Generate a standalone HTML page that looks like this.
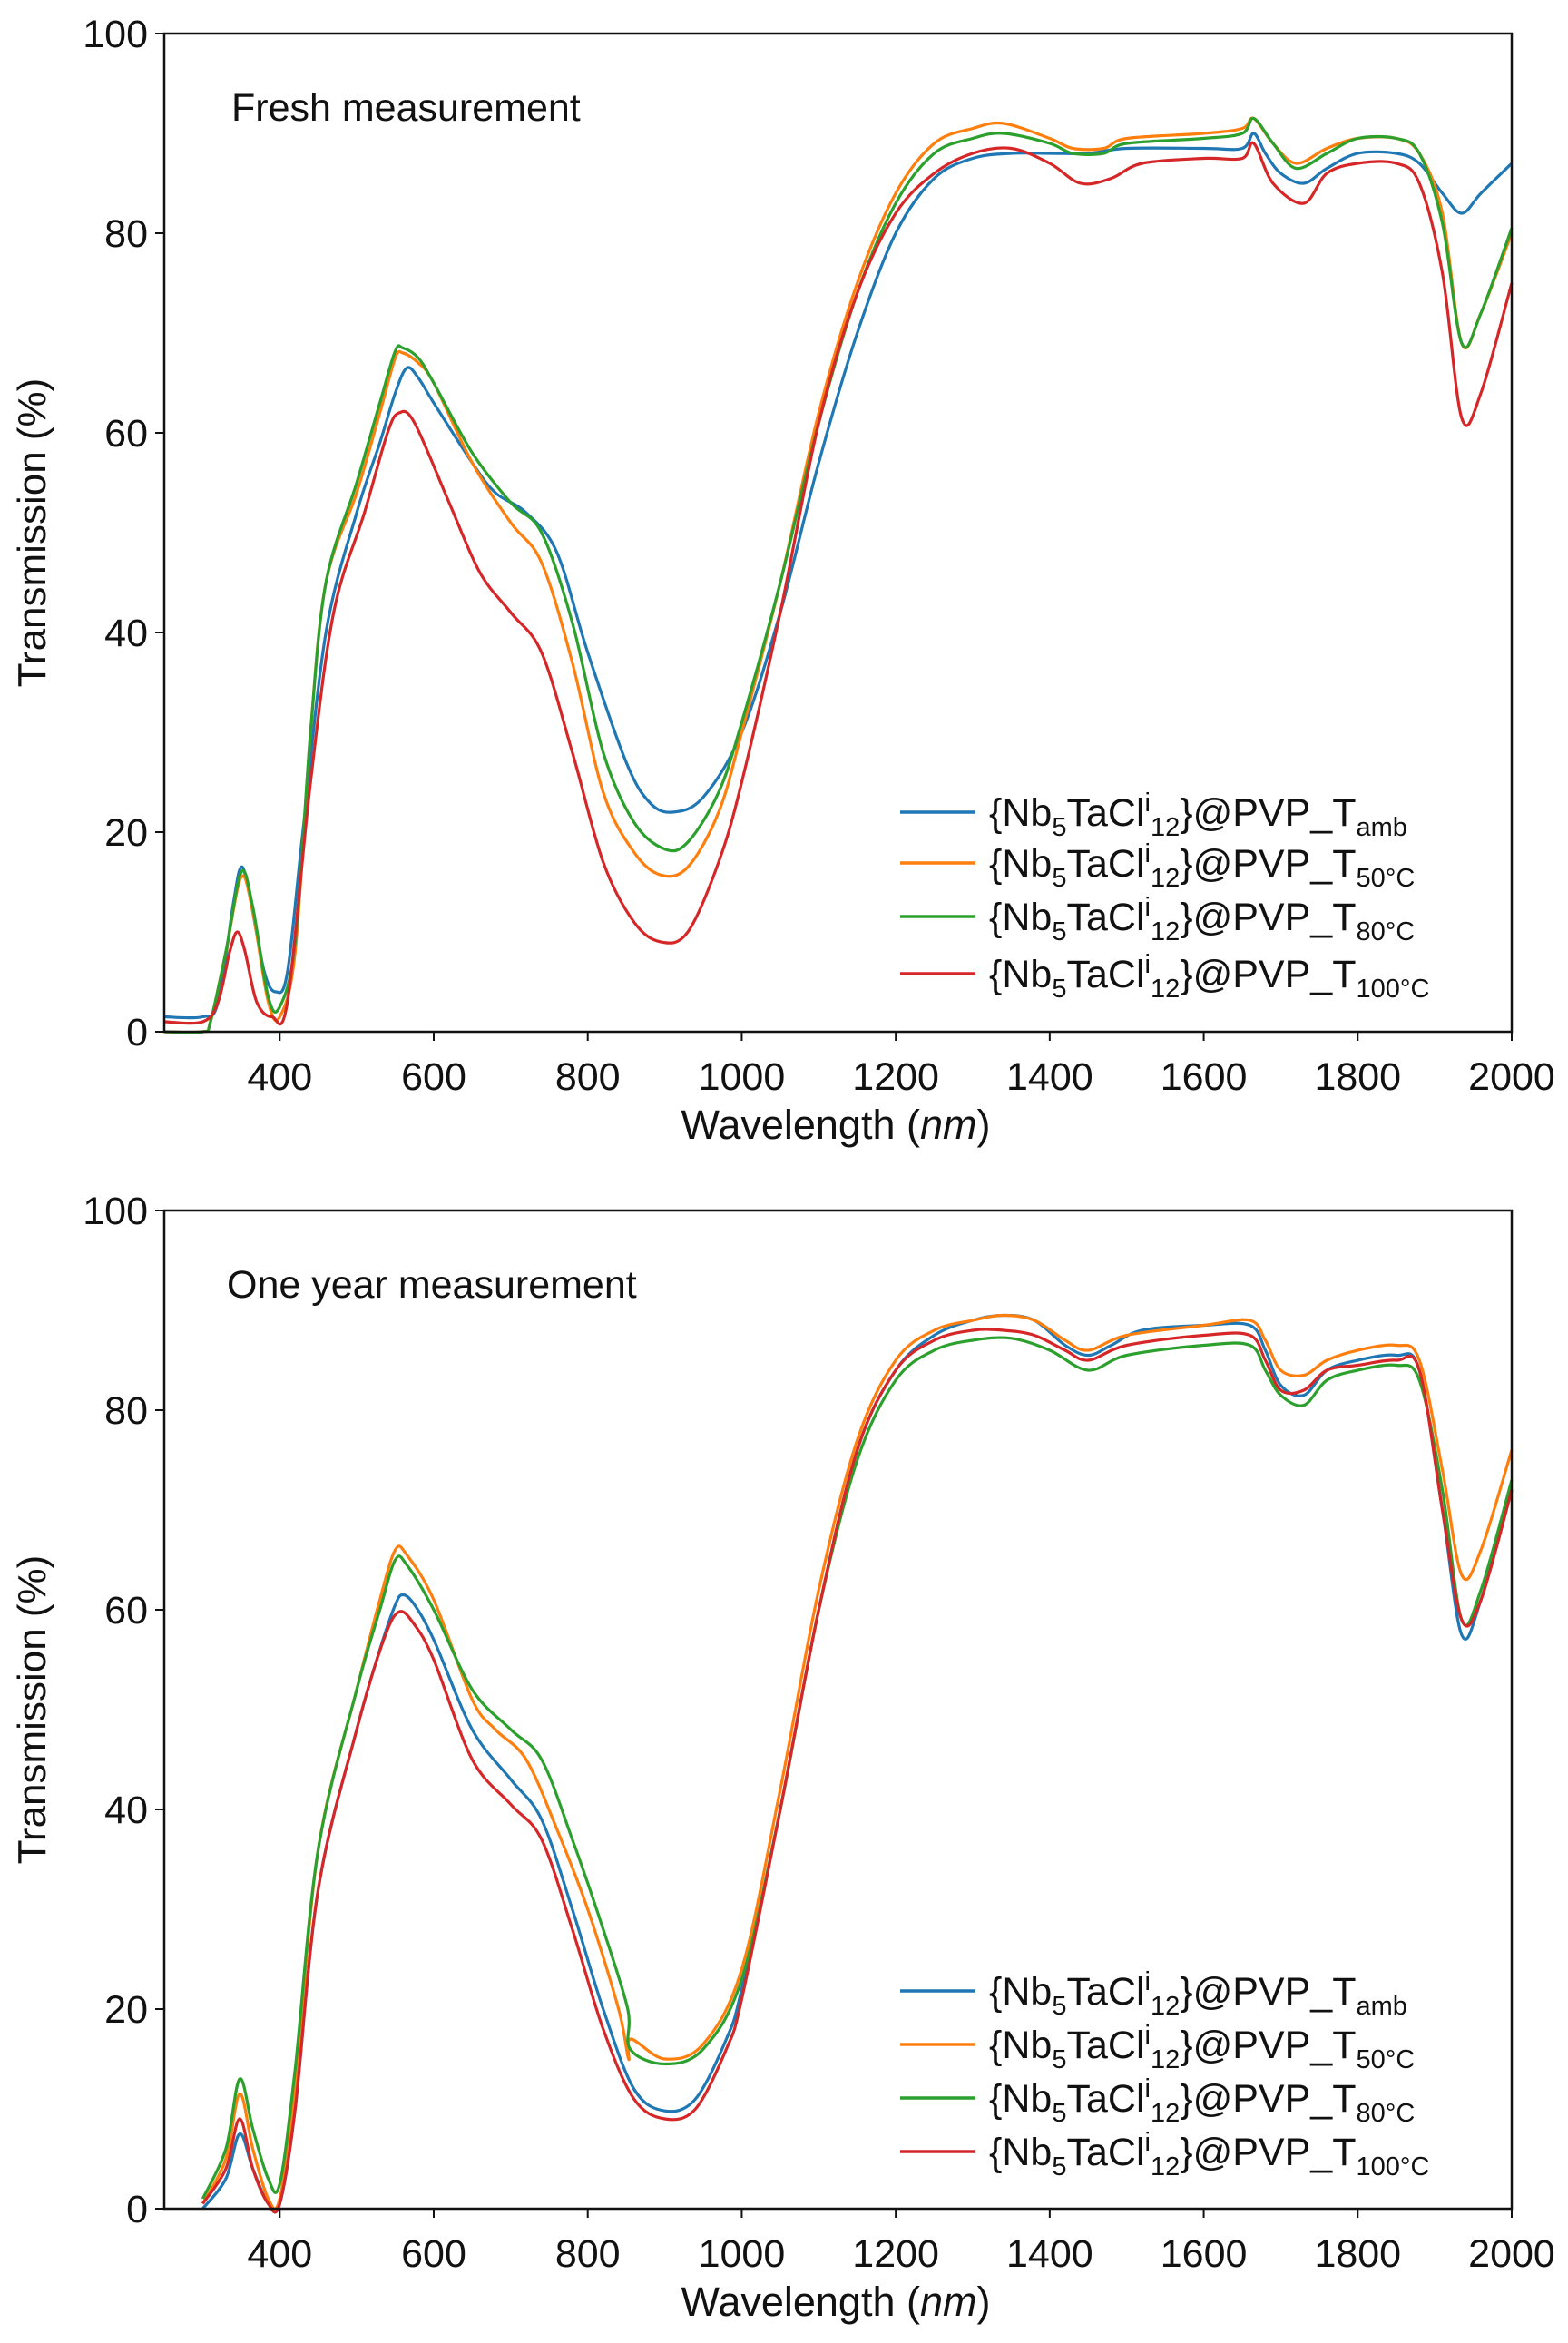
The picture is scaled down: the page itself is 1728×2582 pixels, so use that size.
<!DOCTYPE html>
<html><head><meta charset="utf-8"><style>
html,body{margin:0;padding:0;background:#fff}
svg text{font-family:"Liberation Sans","DejaVu Sans",sans-serif;fill:#111}
</style></head><body>
<svg id="s" width="1728" height="2577" viewBox="0 0 1728 2577" xmlns="http://www.w3.org/2000/svg">
<rect width="1728" height="2577" fill="#fff"/>
<g id="g"></g>
</svg>
<script>
const NS="http://www.w3.org/2000/svg";
const g=document.getElementById('g');
function el(t,a,txt){const e=document.createElementNS(NS,t);for(const k in a)e.setAttribute(k,a[k]);if(txt!==undefined)e.textContent=txt;g.appendChild(e);return e;}
const L=181,R=1666;
const X=w=>L+(w-250)*(R-L)/1750;
const C={b:"#1f77b4",o:"#ff7f0e",g:"#2ca02c",r:"#d62728"};
function panel(top,bot,title,data,legY){
  const Y=t=>bot-t*(bot-top)/100;
  for(const [c,pts] of data){
    const P=pts.map(p=>[X(p[0]),Y(p[1])]);
    let d="M"+P[0][0].toFixed(1)+","+P[0][1].toFixed(1);
    for(let i=0;i<P.length-1;i++){
      const p0=P[Math.max(0,i-1)],p1=P[i],p2=P[i+1],p3=P[Math.min(P.length-1,i+2)];
      const k=1/6;
      d+=" C"+(p1[0]+(p2[0]-p0[0])*k).toFixed(1)+","+(p1[1]+(p2[1]-p0[1])*k).toFixed(1)+" "+(p2[0]-(p3[0]-p1[0])*k).toFixed(1)+","+(p2[1]-(p3[1]-p1[1])*k).toFixed(1)+" "+p2[0].toFixed(1)+","+p2[1].toFixed(1);
    }
    el('path',{d:d,fill:"none",stroke:C[c],"stroke-width":3.2,"stroke-linejoin":"round"});
  }
  el('rect',{x:L,y:top,width:R-L,height:bot-top,fill:"none",stroke:"#111","stroke-width":2.5});
  for(let t=0;t<=100;t+=20){const y=Y(t);el('line',{x1:L-10,x2:L,y1:y,y2:y,stroke:"#111","stroke-width":2});
    el('text',{x:L-18,y:y+15,"font-size":43,"text-anchor":"end"},String(t));}
  for(let w=400;w<=2000;w+=200){const x=X(w);el('line',{x1:x,x2:x,y1:bot,y2:bot+10,stroke:"#111","stroke-width":2});
    el('text',{x:x,y:bot+64,"font-size":43,"text-anchor":"middle"},String(w));}
  const xl=el('text',{x:921,y:bot+118,"font-size":45,"text-anchor":"middle"});
  xl.innerHTML='Wavelength (<tspan font-style="italic">nm</tspan>)';
  el('text',{x:50,y:(top+bot)/2,"font-size":44,"text-anchor":"middle",transform:"rotate(-90 50 "+((top+bot)/2)+")"},"Transmission (%)");
  el('text',{x:top<100?255:250,y:top+96,"font-size":43},title);
  const subs=["amb","50°C","80°C","100°C"],cs=["b","o","g","r"];
  for(let i=0;i<4;i++){const y=legY[i];
    el('line',{x1:992,x2:1075,y1:y,y2:y,stroke:C[cs[i]],"stroke-width":3.5});
    const t=el('text',{x:1090,y:y+15,"font-size":43});
    t.innerHTML='{Nb<tspan font-size="29" dy="11">5</tspan><tspan dy="-11">TaCl</tspan><tspan font-size="29" dy="-16">i</tspan><tspan font-size="29" dy="27">12</tspan><tspan dy="-11">}@PVP_T</tspan><tspan font-size="29" dy="11">'+subs[i]+'</tspan>';
  }
}
const top1=[
["b",[[250,1.5],[300,1.5],[320,3],[340,13],[350,16.5],[360,14],[380,6],[395,4],[410,6],[430,20],[460,40],[500,52],[530,59],[550,64],[565,66.5],[580,65.5],[600,63],[650,57],[680,54],[720,52],[760,48],[800,38],[850,27],[880,23],[910,22],[950,23.5],[1000,30],[1050,42],[1100,57],[1150,70],[1200,80],[1250,85.5],[1300,87.5],[1350,88],[1400,88],[1450,88],[1500,88.5],[1600,88.5],[1650,88.5],[1665,90],[1680,88],[1700,86],[1730,85],[1760,86.5],[1800,88],[1850,88],[1880,87],[1910,84],[1935,82],[1960,84],[2000,87]]],
["o",[[250,0],[300,0],[310,1],[330,8],[350,15.5],[365,12],[385,3],[400,1.5],[420,8],[440,30],[460,45],[500,54],[530,62],[550,67.5],[560,68],[580,67],[600,65],[650,57],[700,51],[740,47],[780,37],[820,24],[860,18],[895,15.7],[930,16.5],[970,22],[1000,30],[1050,45],[1100,62],[1150,75],[1200,84],[1250,89],[1300,90.5],[1340,91],[1400,89.5],[1430,88.5],[1470,88.5],[1500,89.5],[1600,90],[1650,90.5],[1665,91.5],[1690,89],[1720,87],[1760,88.5],[1800,89.5],[1850,89.5],[1880,88],[1910,82],[1935,69],[1960,72],[2000,80]]],
["g",[[250,0],[300,0],[310,1],[330,8],[350,16],[365,12.5],[385,3.5],[400,2.5],[420,9],[440,30],[460,45],[500,55],[530,63],[550,68.2],[560,68.5],[580,67.5],[600,65],[650,58],[700,53],[740,50],[780,41],[820,28],[860,21],[900,18.3],[930,19],[970,24],[1000,31],[1050,45],[1100,61],[1150,74],[1200,83],[1250,88],[1300,89.5],[1340,90],[1400,89],[1430,88],[1470,88],[1500,89],[1600,89.5],[1650,90],[1665,91.5],[1690,89],[1720,86.5],[1760,88],[1800,89.5],[1850,89.5],[1880,88],[1910,81],[1935,69],[1960,72],[2000,80.5]]],
["r",[[250,1],[300,1],[320,3],[335,8],[345,10],[355,8],[370,3],[390,1.5],[410,3],[440,25],[470,42],[510,52],[540,60],[555,62],[575,61],[620,53],[660,46],[700,42],[740,38],[780,28],[820,17],[860,11],[895,9],[930,10],[970,17],[1000,25],[1050,42],[1100,61],[1150,74],[1200,82],[1250,86],[1300,88],[1350,88.5],[1400,87],[1440,85],[1480,85.5],[1520,87],[1600,87.5],[1650,87.5],[1665,89],[1690,85],[1730,83],[1760,86],[1800,87],[1850,87],[1880,85],[1910,76],[1935,61.5],[1960,64],[2000,75]]]
];
const bot1=[
["b",[[300,0],[330,3],[348,7.5],[365,4],[385,0.5],[400,0.5],[420,10],[450,32],[500,48],[530,56],[550,60.5],[560,61.5],[575,60.5],[600,57],[650,48],[700,43],[740,39],[780,30],[820,20],[860,12],[900,9.8],[940,11],[980,17],[1000,22],[1050,40],[1100,60],[1150,76],[1200,84],[1250,87.5],[1300,89],[1340,89.5],[1380,89],[1420,86.5],[1450,85.5],[1480,86.5],[1520,88],[1600,88.5],[1660,88.5],[1680,86],[1700,82.5],[1730,81.5],[1760,84],[1800,85],[1850,85.5],[1880,84],[1910,70],[1935,57.5],[1960,61],[2000,72]]],
["o",[[300,0.5],[330,5],[348,11.5],[365,6],[385,1],[400,1],[420,12],[450,36],[500,52],[530,61],[550,66],[565,65.5],[600,61],[650,51],[680,48],[720,45],[760,38],[800,30],[840,20],[853,15],[856,17],[900,15],[950,16.5],[1000,24],[1050,42],[1100,62],[1150,77],[1200,85],[1250,88],[1300,89],[1340,89.5],[1380,89],[1420,87],[1450,86],[1500,87.5],[1600,88.5],[1660,89],[1680,87],[1700,84],[1730,83.5],[1760,85],[1800,86],[1850,86.5],[1880,85],[1910,74],[1935,63.5],[1960,66],[2000,76]]],
["g",[[300,1],[330,6],[348,13],[365,8],[385,3],[400,2.5],[420,14],[450,36],[500,52],[530,60],[550,65],[565,64.5],[600,60],[650,52],[700,48],[740,45],[780,37],[820,28],[852,20],[855,16],[900,14.5],[950,16],[1000,23],[1050,40],[1100,60],[1150,75],[1200,83],[1250,86],[1300,87],[1350,87.2],[1400,86],[1450,84],[1500,85.5],[1600,86.5],[1660,86.5],[1680,84],[1700,81.5],[1730,80.5],[1760,83],[1800,84],[1850,84.5],[1880,83],[1910,72],[1935,59],[1960,62],[2000,73]]],
["r",[[300,0.5],[330,4],[348,9],[365,4],[385,0.5],[400,0.5],[420,10],[450,32],[500,48],[535,57],[555,59.8],[575,58.5],[600,55],[650,45],[700,40.5],[740,37],[780,28],[820,18],[860,11],[900,9],[940,10],[980,16],[1000,21],[1050,40],[1100,60],[1150,76],[1200,84],[1250,87],[1300,88],[1340,88],[1380,87.5],[1420,86],[1450,85],[1500,86.5],[1600,87.5],[1660,87.5],[1680,85],[1700,82],[1730,82],[1760,84],[1800,84.5],[1850,85],[1880,84],[1910,70],[1935,59],[1960,61],[2000,72]]]
];
panel(37,1137,"Fresh measurement",top1,[895,951,1010,1073]);
panel(1334,2434,"One year measurement",bot1,[2194,2253,2312,2371]);
</script>
</body></html>
